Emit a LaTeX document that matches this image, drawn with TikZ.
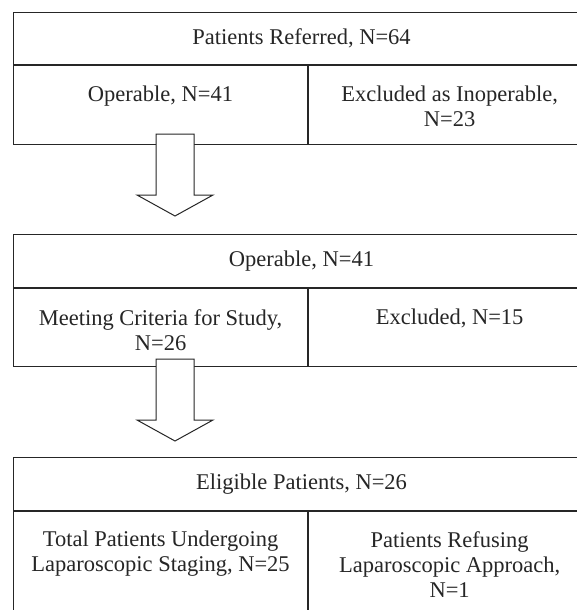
\documentclass[tikz,border=0pt]{standalone}
\usepackage{fontspec}
\setmainfont{Liberation Serif}
\begin{document}
\begin{tikzpicture}[x=1pt,y=-1pt,
  every node/.style={font=\fontsize{22.5}{25}\selectfont, text=black!85},
  titlecell/.style={draw=black!85, line width=1.1pt, minimum width=576pt, anchor=north west, inner sep=0pt},
  leftcell/.style={draw=black!85, line width=1.1pt, minimum width=294pt, anchor=north west, inner sep=0pt},
  rightcell/.style={draw=black!85, line width=1.1pt, minimum width=282pt, anchor=north west, inner sep=0pt},
  midline/.style={draw=black!85, line width=2pt},
  celltext/.style={anchor=north, align=center, inner sep=0pt},
  fatarrow/.pic={\draw[draw=black!85, line width=1pt, fill=white, line join=miter]
     (-19,0) -- (19,0) -- (19,61) -- (38,61) -- (0,82) -- (-38,61) -- (-19,61) -- cycle;}
]
\useasboundingbox (0,0) rectangle (577,610);
\clip (0,0) rectangle (577,610);
\fill[white] (0,0) rectangle (577,610);

% Box 1
\node[titlecell, minimum height=52pt] (t1) at (13,12) {};
\node[leftcell, minimum height=79pt] (l1) at (t1.south west) {};
\node[rightcell, minimum height=79pt] (r1) at (l1.north east) {};
\draw[midline] (t1.south west) -- (t1.south east);
\node (t1txt) at (t1.center) {Patients Referred, N=64};
\node[celltext] (l1txt) at ([yshift=-21pt]l1.north) {Operable, N=41};
\node[celltext] (r1txt) at ([yshift=-21pt]r1.north) {Excluded as Inoperable,\\N=23};

% Box 2
\node[titlecell, minimum height=53pt] (t2) at (13,234) {};
\node[leftcell, minimum height=78pt] (l2) at (t2.south west) {};
\node[rightcell, minimum height=78pt] (r2) at (l2.north east) {};
\draw[midline] (t2.south west) -- (t2.south east);
\node (t2txt) at (t2.center) {Operable, N=41};
\node[celltext] (l2txt) at ([yshift=-21pt]l2.north) {Meeting Criteria for Study,\\N=26};
\node[celltext] (r2txt) at ([yshift=-21pt]r2.north) {Excluded, N=15};

% Box 3
\node[titlecell, minimum height=53pt] (t3) at (13,457) {};
\node[leftcell, minimum height=140pt] (l3) at (t3.south west) {};
\node[rightcell, minimum height=140pt] (r3) at (l3.north east) {};
\draw[midline] (t3.south west) -- (t3.south east);
\node (t3txt) at (t3.center) {Eligible Patients, N=26};
\node[celltext] (l3txt) at ([yshift=-20pt]l3.north) {Total Patients Undergoing\\Laparoscopic Staging, N=25};
\node[celltext] (r3txt) at ([yshift=-20pt]r3.north) {Patients Refusing\\Laparoscopic Approach,\\N=1};

% Arrows
\coordinate (a1) at (175,134);
\coordinate (a2) at (175,359);
\pic at (a1) {fatarrow};
\pic at (a2) {fatarrow};
\end{tikzpicture}
\end{document}
